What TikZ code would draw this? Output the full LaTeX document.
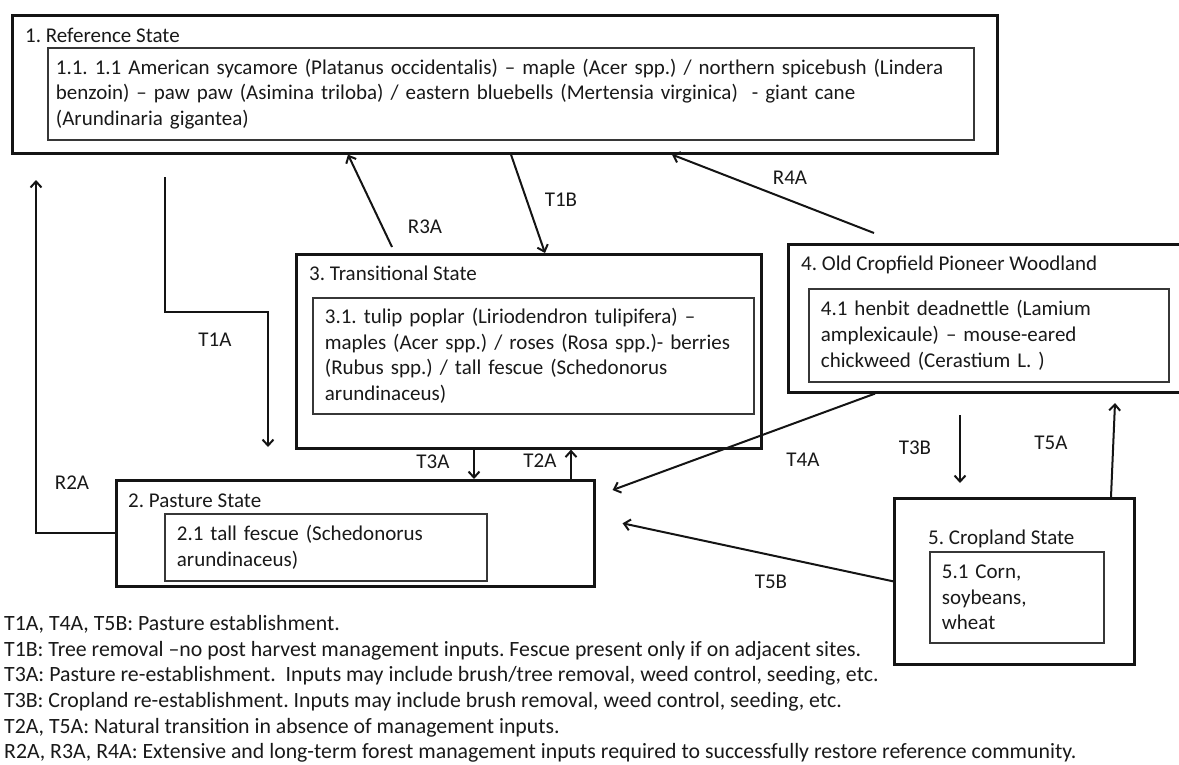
\documentclass[tikz,border=0pt]{standalone}
\usepackage{fontspec}
\setmainfont{Carlito}
\usepackage{tikz}
\usetikzlibrary{arrows.meta, positioning}
\newcommand{\statefont}{\fontsize{21}{25.7}\selectfont}
\newcommand{\notefont}{\fontsize{21.8}{25.7}\selectfont}
\definecolor{boxline}{RGB}{20,20,20}
\definecolor{innerline}{RGB}{55,55,55}
\definecolor{txtgray}{RGB}{25,25,25}
\frenchspacing

\begin{document}
\begin{tikzpicture}[
    x=1pt, y=-1pt,
    statebox/.style={rectangle, draw=boxline, line width=2.6pt, anchor=north west, inner sep=0pt},
    statetitle/.style={inner sep=0pt, text height=14pt, text depth=4pt, font=\statefont, text=txtgray},
    phasebox/.style={rectangle, draw=innerline, line width=1.8pt, inner xsep=12pt, inner ysep=0pt, align=left, font=\statefont, text=txtgray},
    transarrow/.style={-{Straight Barb[length=6pt,width=11pt]}, line width=2pt, draw=boxline},
    translabel/.style={font=\statefont, text=txtgray, inner sep=0pt}
]
\useasboundingbox (0,0) rectangle (1179,764);

% 1. Reference State
\node[statebox, minimum width=985pt, minimum height=138pt] (S1) at (11,14) {};
\node[statetitle, below right=14pt and 14pt of S1.north west] (S1title) {1. Reference State};
\node[phasebox, below right=33pt and 36pt of S1.north west, inner xsep=8pt, text width=910pt, minimum height=92pt] (P1) {1.1. 1.1 American sycamore (Platanus occidentalis) -- maple (Acer spp.) / northern spicebush (Lindera\\ benzoin) -- paw paw (Asimina triloba) / eastern bluebells (Mertensia virginica)\ \ - giant cane\\ (Arundinaria gigantea)};

% 3. Transitional State
\node[statebox, minimum width=465pt, minimum height=194pt] (S3) at (295,253) {};
\node[statetitle, below right=13pt and 14pt of S3.north west] (S3title) {3. Transitional State};
\node[phasebox, below right=44pt and 17pt of S3.north west, text width=417pt, minimum height=116pt] (P3) {3.1. tulip poplar (Liriodendron tulipifera) --\\ maples (Acer spp.) / roses (Rosa spp.)- berries\\ (Rubus spp.) / tall fescue (Schedonorus\\ arundinaceus)};

% 4. Old Cropfield Pioneer Woodland
\node[statebox, minimum width=400pt, minimum height=148pt] (S4) at (787,243) {};
\node[statetitle, below right=13pt and 14pt of S4.north west] (S4title) {4. Old Cropfield Pioneer Woodland};
\node[phasebox, below right=45pt and 21pt of S4.north west, text width=336pt, minimum height=93pt] (P4) {4.1 henbit deadnettle (Lamium\\ amplexicaule) -- mouse-eared\\ chickweed (Cerastium L. )};

% 2. Pasture State
\node[statebox, minimum width=478pt, minimum height=106pt] (S2) at (115,479) {};
\node[statetitle, below right=14pt and 13pt of S2.north west] (S2title) {2. Pasture State};
\node[phasebox, below right=34pt and 49pt of S2.north west, text width=298pt, minimum height=67pt] (P2) {2.1 tall fescue (Schedonorus\\ arundinaceus)};

% 5. Cropland State
\node[statebox, minimum width=240pt, minimum height=166pt] (S5) at (893,497) {};
\node[statetitle, below right=33pt and 35pt of S5.north west] (S5title) {5. Cropland State};
\node[phasebox, below right=54pt and 36pt of S5.north west, text width=150pt, minimum height=91pt] (P5) {5.1 Corn,\\ soybeans,\\ wheat};

% Free ends of connectors
\coordinate (R2Aend) at (36,180);
\coordinate (T1Astart) at (165,177);
\coordinate (T1Aend) at (268,447);
\coordinate (R3Astart) at (392,247);
\coordinate (R4Astart) at (874,233);
\coordinate (T3Bstart) at (960,415);
\coordinate (T3Bend) at (960,483);
\coordinate (T5Aend) at (1115,403);

% Transitions
\draw[transarrow] (S2.west) -| (R2Aend);
\draw[transarrow] (T1Astart) -- ++(0,135) -| (T1Aend);
\draw[transarrow] (R3Astart) -- ([xshift=337pt]S1.south west);
\draw[transarrow] ([xshift=500pt]S1.south west) -- ([xshift=250pt]S3.north west);
\draw[transarrow] (R4Astart) -- ([xshift=661pt]S1.south west);
\draw[transarrow] ([xshift=179pt]S3.south west) -- ([xshift=359pt]S2.north west);
\draw[transarrow] ([xshift=456pt]S2.north west) -- ([xshift=276pt]S3.south west);
\draw[transarrow] ([xshift=88pt]S4.south west) -- ([xshift=17pt,yshift=-11pt]S2.north east);
\draw[transarrow] (T3Bstart) -- (T3Bend);
\draw[transarrow] ([xshift=218pt]S5.north west) -- (T5Aend);
\draw[transarrow] (S5.west) -- ([xshift=27pt,yshift=10pt]S2.east);

% Transition labels
\node[translabel] (R2Alabel) at (72,483) {R2A};
\node[translabel] (T1Alabel) at (215,340) {T1A};
\node[translabel] (R3Alabel) at (425,227) {R3A};
\node[translabel] (T1Blabel) at (561,200) {T1B};
\node[translabel] (R4Alabel) at (790,178) {R4A};
\node[translabel] (T3Alabel) at (433,462) {T3A};
\node[translabel] (T2Alabel) at (540,461) {T2A};
\node[translabel] (T4Alabel) at (803,460) {T4A};
\node[translabel] (T3Blabel) at (915,448) {T3B};
\node[translabel] (T5Alabel) at (1051,443) {T5A};
\node[translabel] (T5Blabel) at (771,582) {T5B};

% Legend of transitions
\node[anchor=west, inner sep=0pt, align=left, font=\notefont, text=txtgray] (notes) at (4,689) {T1A, T4A, T5B: Pasture establishment.\\
T1B: Tree removal --no post harvest management inputs. Fescue present only if on adjacent sites.\\
T3A: Pasture re-establishment.\ \ Inputs may include brush/tree removal, weed control, seeding, etc.\\
T3B: Cropland re-establishment. Inputs may include brush removal, weed control, seeding, etc.\\
T2A, T5A: Natural transition in absence of management inputs.\\
R2A, R3A, R4A: Extensive and long-term forest management inputs required to successfully restore reference community.};

\end{tikzpicture}
\end{document}
